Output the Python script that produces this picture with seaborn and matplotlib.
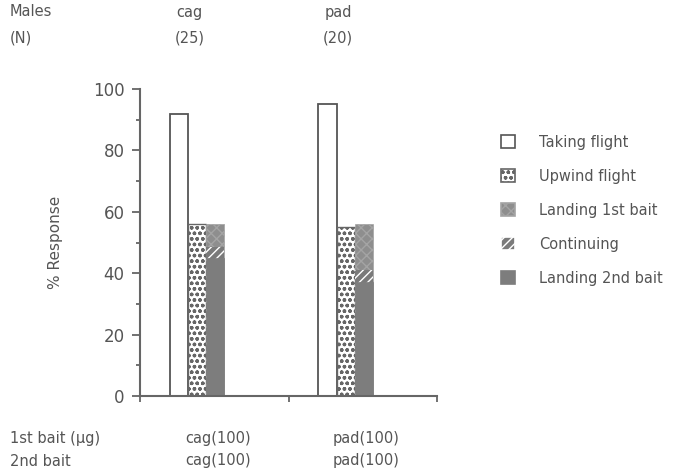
import matplotlib
matplotlib.use("Agg")
import matplotlib.pyplot as plt
from matplotlib.patches import Patch
from matplotlib.transforms import blended_transform_factory
import seaborn as sns
import pandas as pd

# ---- data ----
groups = ["cag", "pad"]
n_males = [25, 20]
taking_flight = [92, 95]
upwind_flight = [56, 55]
landing_1st = [7.5, 15]
continuing = [3.5, 4]
landing_2nd = [45, 37]
bait1 = ["cag(100)", "pad(100)"]
bait2 = ["cag(100)", "pad(100)"]
series_labels = ["Taking flight", "Upwind flight", "Landing 1st bait",
                 "Continuing", "Landing 2nd bait"]

sns.set_theme(style="ticks")
plt.rcParams["font.family"] = ["DejaVu Sans"]
TXT = "#555555"
AX = "#666666"

fig = plt.figure(figsize=(6.82, 4.76), dpi=100)
ax = fig.add_axes([140/682, 1-396/476, (437-140)/682, (396-89)/476])

slots = ["Taking", "Upwind", "Landing"]

def layer(values_by_slot):
    rows = []
    for s, vals in values_by_slot.items():
        for g, v in zip(groups, vals):
            rows.append({"group": g, "slot": s, "value": v})
    df = pd.DataFrame(rows)
    before = len(ax.patches)
    sns.barplot(data=df, x="group", y="value", hue="slot", hue_order=slots,
                order=groups, dodge=True, width=0.364, gap=0, errorbar=None,
                palette={s: "white" for s in slots}, legend=False, ax=ax)
    return ax.patches[before:]

tot_land = [a + b + c for a, b, c in zip(landing_1st, continuing, landing_2nd)]
p1 = layer({"Taking": taking_flight, "Upwind": upwind_flight, "Landing": tot_land})
p2 = layer({"Landing": [b + c for b, c in zip(continuing, landing_2nd)]})
p3 = layer({"Landing": landing_2nd})

styles = {
    "Taking flight": dict(facecolor="white", edgecolor="#555555", hatch=None, lw=1.3),
    "Upwind flight": dict(facecolor="white", edgecolor="#666666", hatch="ooo", lw=1.0),
    "Landing 1st bait": dict(facecolor="#8e8e8e", edgecolor="#a4a4a4", hatch="xxx", lw=0.5),
    "Continuing": dict(facecolor="#7a7a7a", edgecolor="white", hatch="////", lw=0.0),
    "Landing 2nd bait": dict(facecolor="#7d7d7d", edgecolor="#7d7d7d", hatch=None, lw=0.5),
}

def apply(p, st):
    p.set_facecolor(st["facecolor"])
    p.set_edgecolor(st["edgecolor"])
    p.set_linewidth(st["lw"])
    if st["hatch"]:
        p.set_hatch(st["hatch"])

for i, p in enumerate(p1):
    slot_idx = i // len(groups)
    key = ["Taking flight", "Upwind flight", "Landing 1st bait"][slot_idx]
    apply(p, styles[key])
for p in p2:
    apply(p, styles["Continuing"])
for p in p3:
    apply(p, styles["Landing 2nd bait"])

# axes styling
x0 = -0.384
ax.set_xlim(x0, x0 + 2)
ax.set_ylim(0, 100)
ax.set_xticks([x0, x0 + 1, x0 + 2])
ax.set_xticklabels([])
ax.set_yticks(range(0, 101, 20))
ax.set_yticks(range(10, 100, 20), minor=True)
ax.tick_params(axis="y", which="major", length=6, width=1.3, color=AX,
               labelsize=12, labelcolor=TXT, pad=5)
ax.tick_params(axis="y", which="minor", length=3, width=1.3, color=AX)
ax.tick_params(axis="x", which="major", length=4, width=1.3, color=AX, direction="out")
ax.set_xlabel("")
ax.set_ylabel("% Response", fontsize=11, color=TXT, labelpad=22)
for s in ["top", "right"]:
    ax.spines[s].set_visible(False)
for s in ["left", "bottom"]:
    ax.spines[s].set_color(AX)
    ax.spines[s].set_linewidth(1.5)

# top and bottom annotations
tr = blended_transform_factory(ax.transData, fig.transFigure)
fs = 10.5
fig.text(10/682, 1-12/476, "Males", fontsize=fs, color=TXT, va="center", ha="left")
fig.text(10/682, 1-38/476, "(N)", fontsize=fs, color=TXT, va="center", ha="left")
for i, g in enumerate(groups):
    ax.text(i - 0.05, 1-12/476, g, transform=tr, fontsize=fs, color=TXT, ha="center", va="center")
    ax.text(i - 0.05, 1-38/476, f"({n_males[i]})", transform=tr, fontsize=fs, color=TXT, ha="center", va="center")
    ax.text(i + 0.14, 1-438/476, bait1[i], transform=tr, fontsize=fs, color=TXT, ha="center", va="center")
    ax.text(i + 0.14, 1-461/476, bait2[i], transform=tr, fontsize=fs, color=TXT, ha="center", va="center")
fig.text(10/682, 1-438/476, "1st bait (µg)", fontsize=fs, color=TXT, va="center", ha="left")
fig.text(10/682, 1-461/476, "2nd bait", fontsize=fs, color=TXT, va="center", ha="left")

# legend
handles = []
for lab in series_labels:
    st = styles[lab]
    ec = st["edgecolor"]
    if lab == "Taking flight":
        ec = "#555555"
    handles.append(Patch(facecolor=st["facecolor"], edgecolor=ec,
                         hatch=st["hatch"], linewidth=1.2, label=lab))
leg = fig.legend(handles=handles, loc="upper left", bbox_to_anchor=(495/682, 1-129/476),
                 frameon=False, fontsize=fs, labelspacing=1.3, handlelength=1.0,
                 handleheight=1.0, handletextpad=1.6, borderaxespad=0)
for t in leg.get_texts():
    t.set_color(TXT)

fig.savefig("out.png", dpi=100)
